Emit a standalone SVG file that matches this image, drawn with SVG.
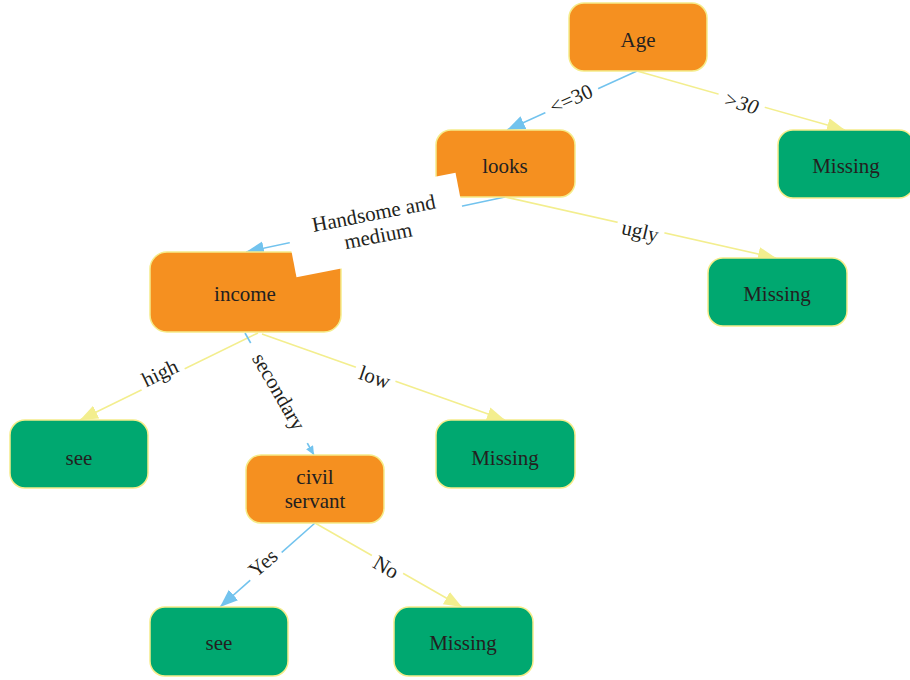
<svg xmlns="http://www.w3.org/2000/svg" width="910" height="680" viewBox="0 0 910 680">
<defs>
<style>
.node rect{stroke:#F5EC8A;stroke-width:1.5}
.dec rect{fill:#F59020}
.leaf rect{fill:#00A870}
text{font-family:"Liberation Serif","DejaVu Serif",serif;font-size:21px;fill:#231F20;text-anchor:middle}
.blue{stroke:#72C3EE;stroke-width:1.6;fill:none}
.yel{stroke:#F3EE8E;stroke-width:1.6;fill:none}
.lbl rect{fill:#FFFFFF;stroke:none}
</style>
<marker id="ab" markerUnits="userSpaceOnUse" markerWidth="20" markerHeight="16" refX="18" refY="7" orient="auto"><path d="M0,0 L18,7 L0,14 z" fill="#72C3EE"/></marker>
<marker id="ay" markerUnits="userSpaceOnUse" markerWidth="20" markerHeight="16" refX="18" refY="7" orient="auto"><path d="M0,0 L18,7 L0,14 z" fill="#F3EE8E"/></marker>
<marker id="abs" markerUnits="userSpaceOnUse" markerWidth="12" markerHeight="10" refX="9" refY="4" orient="auto"><path d="M0,0 L9,4 L0,8 z" fill="#72C3EE"/></marker>
</defs>
<rect width="910" height="680" fill="#FFFFFF"/>
<g id="connectors">
<line class="blue" x1="637" y1="71" x2="507" y2="130" marker-end="url(#ab)"/>
<line class="yel" x1="637" y1="71" x2="845" y2="130" marker-end="url(#ay)"/>
<line class="blue" x1="505" y1="197" x2="246" y2="252" marker-end="url(#ab)"/>
<line class="yel" x1="505" y1="197" x2="776" y2="258" marker-end="url(#ay)"/>
<line class="yel" x1="258" y1="333" x2="80" y2="420" marker-end="url(#ay)"/>
<line class="blue" x1="245" y1="333" x2="314" y2="455" marker-end="url(#abs)"/>
<line class="yel" x1="262" y1="334" x2="505" y2="420" marker-end="url(#ay)"/>
<line class="blue" x1="315" y1="523" x2="220" y2="607" marker-end="url(#ab)"/>
<line class="yel" x1="315" y1="523" x2="462" y2="607" marker-end="url(#ay)"/>
</g>
<g id="n-age" class="node dec"><rect x="569" y="3" width="138" height="68" rx="15"/><text x="638" y="47">Age</text></g>
<g id="n-looks" class="node dec"><rect x="436" y="130" width="139" height="67" rx="15"/><text x="505" y="173">looks</text></g>
<g id="n-missing1" class="node leaf"><rect x="778" y="130" width="136" height="68" rx="15"/><text x="846" y="173">Missing</text></g>
<g id="n-income" class="node dec"><rect x="150" y="252" width="191" height="80" rx="17"/><text x="245" y="301">income</text></g>
<g id="n-missing2" class="node leaf"><rect x="708" y="258" width="139" height="68" rx="15"/><text x="777" y="301">Missing</text></g>
<g id="n-see1" class="node leaf"><rect x="10" y="420" width="138" height="68" rx="15"/><text x="79" y="465">see</text></g>
<g id="n-civil" class="node dec"><rect x="246" y="455" width="138" height="68" rx="15"/><text x="315" y="484">civil</text><text x="315" y="508">servant</text></g>
<g id="n-missing3" class="node leaf"><rect x="436" y="420" width="139" height="68" rx="15"/><text x="505" y="465">Missing</text></g>
<g id="n-see2" class="node leaf"><rect x="150" y="607" width="138" height="69" rx="15"/><text x="219" y="650">see</text></g>
<g id="n-missing4" class="node leaf"><rect x="394" y="607" width="139" height="69" rx="15"/><text x="463" y="650">Missing</text></g>
<g id="labels">
<g class="lbl" transform="translate(571,99) rotate(-24)"><rect x="-29" y="-12" width="58" height="24"/><text y="7">&lt;=30</text></g>
<g class="lbl" transform="translate(741,103) rotate(16)"><rect x="-24" y="-12" width="48" height="24"/><text y="7" font-style="italic">&gt;30</text></g>
<g class="lbl" transform="translate(376,225) rotate(-11)"><rect x="-88" y="-36" width="176" height="72"/><text y="-5">Handsome and</text><text y="18">medium</text></g>
<g class="lbl" transform="translate(640,232) rotate(13)"><rect x="-24" y="-12" width="48" height="24"/><text y="6">ugly</text></g>
<g class="lbl" transform="translate(160,373) rotate(-26)"><rect x="-24" y="-12" width="48" height="24"/><text y="7">high</text></g>
<g class="lbl" transform="translate(278,392) rotate(60)"><rect x="-56" y="-11" width="115" height="22"/><text y="6">secondary</text></g>
<g class="lbl" transform="translate(374,379) rotate(19)"><rect x="-21" y="-12" width="42" height="24"/><text y="5">low</text></g>
<g class="lbl" transform="translate(263,563) rotate(-41)"><rect x="-21" y="-12" width="42" height="24"/><text y="7">Yes</text></g>
<g class="lbl" transform="translate(386,567) rotate(30)"><rect x="-18" y="-12" width="36" height="24"/><text y="7">No</text></g>
</g>
</svg>
